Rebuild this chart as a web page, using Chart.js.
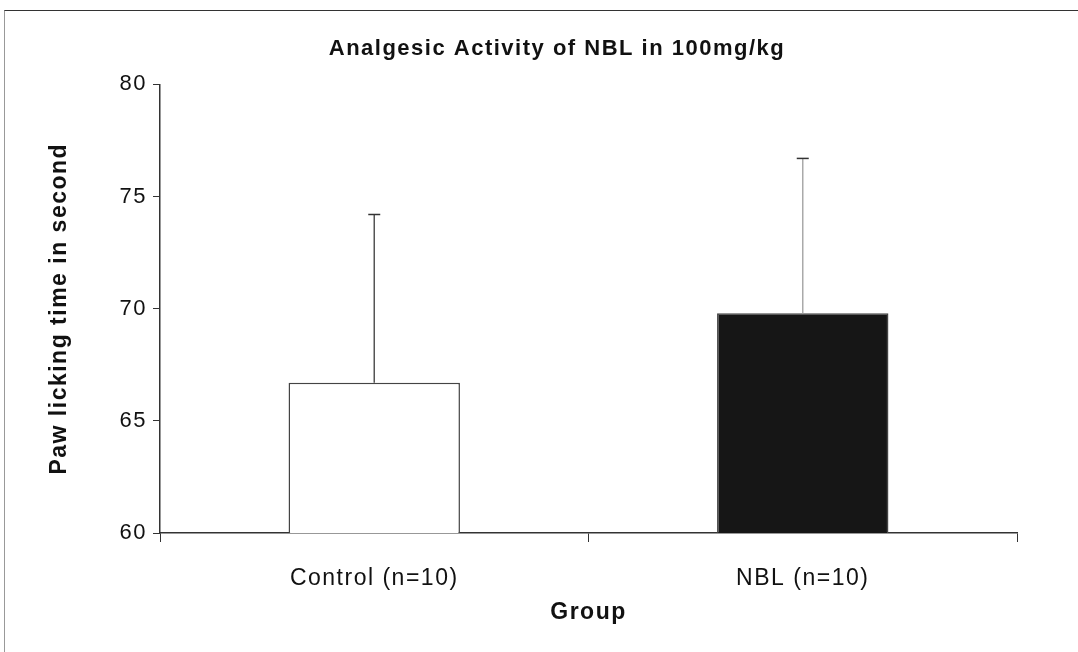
<!DOCTYPE html>
<html>
<head>
<meta charset="utf-8">
<script src="https://cdn.jsdelivr.net/npm/chart.js@4"></script>
<style>
    body { margin: 0; background: #fff; }
    #wrap { position: relative; width: 1078px; height: 652px; }
    #frame { position: absolute; left: 4px; top: 10px; right: -2px; bottom: -2px;
             border-top: 1.5px solid #333; border-left: 1.5px solid #999; }
</style>
</head>
<body>
<div id="wrap">
    <canvas id="myChart" width="1078" height="652"></canvas>
    <div id="frame"></div>
</div>
<script>
// data
let $groups = ['Control (n=10)', 'NBL (n=10)'];
let $means = [66.7, 69.8];
let $errors = [7.5, 6.9];
let $colors = ['#ffffff', '#161616'];
let $errColors = ['#555555', '#aaaaaa'];

let $ctx = document.getElementById('myChart').getContext('2d');

// the scanned original has loosely tracked text
const spacing = {
    id: 'spacing',
    beforeLayout(chart) { chart.ctx.letterSpacing = '1.5px'; },
    beforeDraw(chart) { chart.ctx.letterSpacing = '1.5px'; }
};

// upper error bars only, like the original
const errorBars = {
    id: 'errorBars',
    afterDatasetsDraw(chart) {
        let c = chart.ctx;
        let y = chart.scales.y;
        chart.getDatasetMeta(0).data.forEach(function(bar, i) {
            let top = y.getPixelForValue($means[i] + $errors[i]);
            c.save();
            c.strokeStyle = $errColors[i];
            c.lineWidth = 1.5;
            c.beginPath();
            c.moveTo(bar.x, bar.y);
            c.lineTo(bar.x, top);
            c.stroke();
            c.strokeStyle = '#333';
            c.beginPath();
            c.moveTo(bar.x - 6, top);
            c.lineTo(bar.x + 6, top);
            c.stroke();
            c.restore();
        });
    }
};

const $myChart = new Chart($ctx, {
    type: 'bar',
    data: {
        labels: $groups,
        datasets: [{
            data: $means,
            backgroundColor: $colors,
            borderColor: '#444',
            borderWidth: 1.5,
            categoryPercentage: 1,
            barPercentage: 0.4
        }]
    },
    plugins: [spacing, errorBars],
    options: {
        responsive: false,
        animation: false,
        layout: { padding: { left: 97, right: 61, top: 0, bottom: 14 } },
        plugins: {
            legend: { display: false },
            tooltip: { enabled: false },
            title: {
                display: true,
                text: 'Analgesic Activity of NBL in 100mg/kg',
                color: '#111',
                font: { family: 'Liberation Sans', size: 22, weight: 'bold' },
                padding: { top: 36, bottom: 22 }
            }
        },
        scales: {
            x: {
                grid: { drawOnChartArea: false, offset: true, tickLength: 9, color: '#333' },
                border: { color: '#333', width: 1.5 },
                ticks: { color: '#111', padding: 23, font: { family: 'Liberation Sans', size: 23 } },
                title: {
                    display: true,
                    text: 'Group',
                    color: '#111',
                    font: { family: 'Liberation Sans', size: 23, weight: 'bold' },
                    padding: { top: 4, bottom: 12 }
                },
                afterFit: function(scale) { scale.height = 105; }
            },
            y: {
                min: 60,
                max: 80,
                ticks: { stepSize: 5, color: '#111', padding: 6, font: { family: 'Liberation Sans', size: 22 } },
                grid: { drawOnChartArea: false, tickLength: 7, color: '#333' },
                border: { color: '#333', width: 1.5 },
                title: {
                    display: true,
                    text: 'Paw licking time in second',
                    color: '#111',
                    font: { family: 'Liberation Sans', size: 23, weight: 'bold' },
                    // pulled left of the scale box so the page title can sit over the plot
                    padding: { top: -51, bottom: 0 }
                },
                afterFit: function(scale) { scale.width = 63; }
            }
        }
    }
});
</script>
</body>
</html>
